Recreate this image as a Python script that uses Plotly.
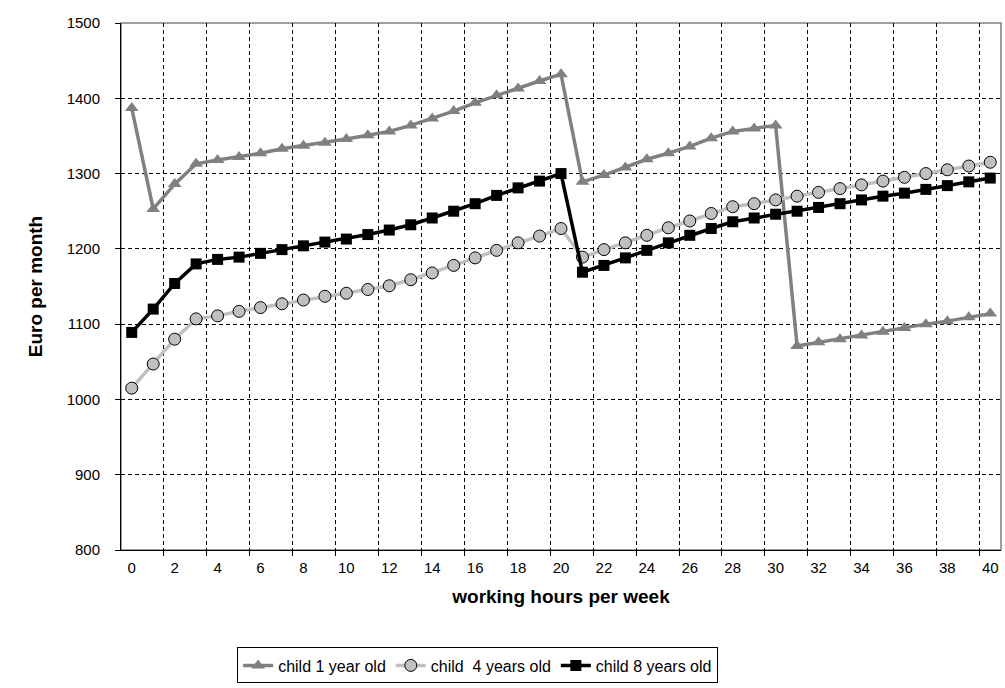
import plotly.graph_objects as go

hours = list(range(0, 41))
tick_hours = list(range(0, 41, 2))
grid_hours = [h + 1.5 for h in range(0, 39, 2)]

child_1_year = [1387, 1253, 1286, 1313, 1318, 1322, 1327, 1333, 1337, 1341,
                1346, 1351, 1356, 1364, 1373, 1383, 1394, 1404, 1413, 1423,
                1432, 1289, 1298, 1308, 1319, 1327, 1336, 1347, 1356, 1360,
                1364, 1071, 1076, 1080, 1085, 1090, 1095, 1100, 1104, 1109,
                1114]
child_4_years = [1015, 1047, 1080, 1107, 1111, 1117, 1122, 1127, 1132, 1137,
                 1141, 1146, 1151, 1159, 1168, 1178, 1188, 1198, 1208, 1217,
                 1227, 1189, 1199, 1208, 1218, 1228, 1237, 1247, 1256, 1260,
                 1265, 1270, 1275, 1280, 1285, 1290, 1295, 1300, 1305, 1310,
                 1315]
child_8_years = [1089, 1120, 1154, 1180, 1186, 1189, 1194, 1199, 1204, 1209,
                 1213, 1219, 1225, 1232, 1241, 1250, 1260, 1271, 1281, 1290,
                 1300, 1169, 1178, 1188, 1198, 1208, 1218, 1227, 1236, 1241,
                 1246, 1250, 1255, 1260, 1265, 1270, 1274, 1279, 1284, 1289,
                 1294]

FONT = "Liberation Sans, Arial, sans-serif"

fig = go.Figure()
fig.add_trace(go.Scatter(
    x=hours, y=child_1_year, name="child 1 year old", mode="lines+markers",
    line=dict(color="#808080", width=3.5),
    marker=dict(symbol="triangle-up", size=12, color="#808080",
                line=dict(color="#808080", width=0)),
))
fig.add_trace(go.Scatter(
    x=hours, y=child_4_years, name="child  4 years old", mode="lines+markers",
    line=dict(color="#C0C0C0", width=3.5),
    marker=dict(symbol="circle", size=12, color="#C0C0C0",
                line=dict(color="black", width=1)),
))
fig.add_trace(go.Scatter(
    x=hours, y=child_8_years, name="child 8 years old", mode="lines+markers",
    line=dict(color="black", width=3.5),
    marker=dict(symbol="square", size=11, color="black",
                line=dict(color="black", width=0)),
))

fig.add_shape(type="rect", xref="paper", yref="paper", x0=0, x1=1, y0=0, y1=1,
              line=dict(color="#808080", width=1.5), layer="below")

fig.update_layout(
    width=1005, height=688,
    margin=dict(l=121, r=4, t=23, b=131),
    paper_bgcolor="white", plot_bgcolor="white",
    font=dict(family=FONT, size=15, color="black"),
    showlegend=True,
    legend=dict(orientation="h", x=0.132, y=-0.185, xanchor="left", yanchor="top",
                bordercolor="black", borderwidth=1, font=dict(size=16, family=FONT),
                itemwidth=30, traceorder="normal", bgcolor="white"),
)

fig.update_xaxes(
    range=[-0.5, 40.5], tickmode="array", tickvals=tick_hours,
    ticktext=[str(h) for h in tick_hours], ticks="", showgrid=False,
    showline=True, linecolor="black", linewidth=1, zeroline=False,
    tickfont=dict(size=15), ticklabelstandoff=4,
    minor=dict(tickmode="array", tickvals=grid_hours, ticks="outside", ticklen=5,
               tickcolor="black", showgrid=True, griddash="4px,3px",
               gridcolor="black", gridwidth=1),
    title=dict(text="<b>working hours per week</b>", font=dict(size=19), standoff=14),
)
fig.update_yaxes(
    range=[800, 1500], dtick=100, ticks="outside", ticklen=5, tickcolor="black",
    showgrid=True, griddash="4px,3px", gridcolor="black", gridwidth=1,
    showline=True, linecolor="black", linewidth=1, zeroline=False,
    tickfont=dict(size=15), ticklabelstandoff=12,
    title=dict(text="<b>Euro per month</b>", font=dict(size=19), standoff=18),
)

fig.write_html(
    "out.html",
    config={"displayModeBar": False},
    post_script="document.body.style.margin='0px';document.body.style.overflow='hidden';",
)
